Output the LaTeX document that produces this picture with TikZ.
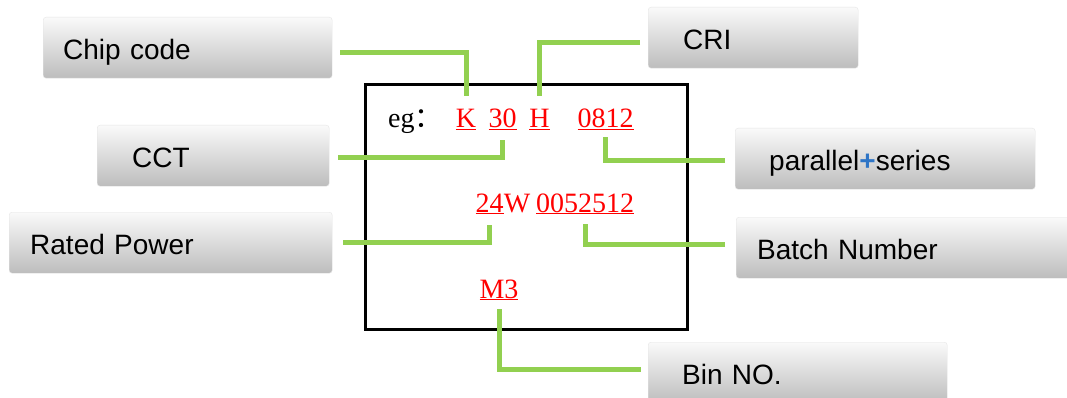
\documentclass[tikz,border=0pt]{standalone}
\usepackage{fontspec}
\setmainfont{Liberation Serif}
\setsansfont{Liberation Sans}
\newfontfamily\cjk{Noto Sans CJK SC}
\usepackage{tikz}
\usetikzlibrary{shapes, positioning, shadows}
\definecolor{linkgreen}{HTML}{92D050}
\definecolor{plusblue}{HTML}{2E75C6}
\tikzstyle{labelbox} = [anchor=north west, rounded corners=3pt, top color=black!2, bottom color=black!26, draw=black!10, minimum height=61pt, align=left, text height=26pt, text depth=2pt, font=\sffamily\fontsize{28pt}{32pt}\selectfont]
\tikzstyle{code} = [anchor=base, inner sep=0pt, text=red, font=\rmfamily\fontsize{28pt}{32pt}\selectfont]
\tikzstyle{link} = [draw=linkgreen, line width=5pt]

\begin{document}
\begin{tikzpicture}[x=1pt, y=-1pt]
	\useasboundingbox[fill=white] (0,0) rectangle (1067,398);
	\node[labelbox, inner xsep=20pt, text width=249pt] (chip) at (43,17) {Chip code};
	\node[labelbox, inner xsep=35pt, text width=162pt] (cct) at (97,125) {CCT};
	\node[labelbox, inner xsep=21pt, text width=281pt] (power) at (9,212) {Rated Power};
	\node[labelbox, inner xsep=35pt, text width=140pt] (cri) at (648,7) {CRI};
	\node[labelbox, inner xsep=34pt, text width=232pt] (series) at (735,128) {parallel{\color{plusblue}\textbf{+}}series};
	\node[labelbox, inner xsep=21pt, text width=300pt] (batch) at (736,217) {Batch Number};
	\node[labelbox, inner xsep=34pt, text width=231pt] (binno) at (648,342) {Bin NO.};
	\draw[line width=3pt] (365,85) rectangle (687,329);
	\node[code, anchor=base west, text=black] (eg) at (388,128) {eg{\cjk ：}};
	\node[code] (tk) at (466,128) {\underline{K}};
	\node[code] (t30) at (502.5,128) {\underline{30}};
	\node[code] (th) at (539.5,128) {\underline{H}};
	\node[code] (tser) at (605.5,128) {\underline{0812}};
	\node[code] (tpow) at (489.5,212) {\underline{24}};
	\node[code, anchor=base west] (tw) at (tpow.base east) {W};
	\node[code] (tbatch) at (585,212) {\underline{0052512}};
	\node[code] (tbin) at (499,298) {\underline{M3}};
	\draw[link] ([xshift=8pt,yshift=-4.5pt]chip.east) -| ([yshift=13pt]tk.north);
	\draw[link] ([xshift=-8pt,yshift=-4.5pt]cri.west) -| ([yshift=13pt]th.north);
	\draw[link] ([xshift=9pt,yshift=-2pt]cct.east) -| ([yshift=-10pt]t30.south);
	\draw[link] ([xshift=-10pt,yshift=-1.5pt]series.west) -| ([yshift=-7pt]tser.south);
	\draw[link] ([xshift=11pt]power.east) -| ([yshift=-11pt]tpow.south);
	\draw[link] ([xshift=-11pt,yshift=3pt]batch.west) -| ([yshift=-10pt]tbatch.south);
	\draw[link] ([yshift=-9pt]tbin.south) |- ([xshift=-7pt,yshift=3.5pt]binno.west);
\end{tikzpicture}
\end{document}
